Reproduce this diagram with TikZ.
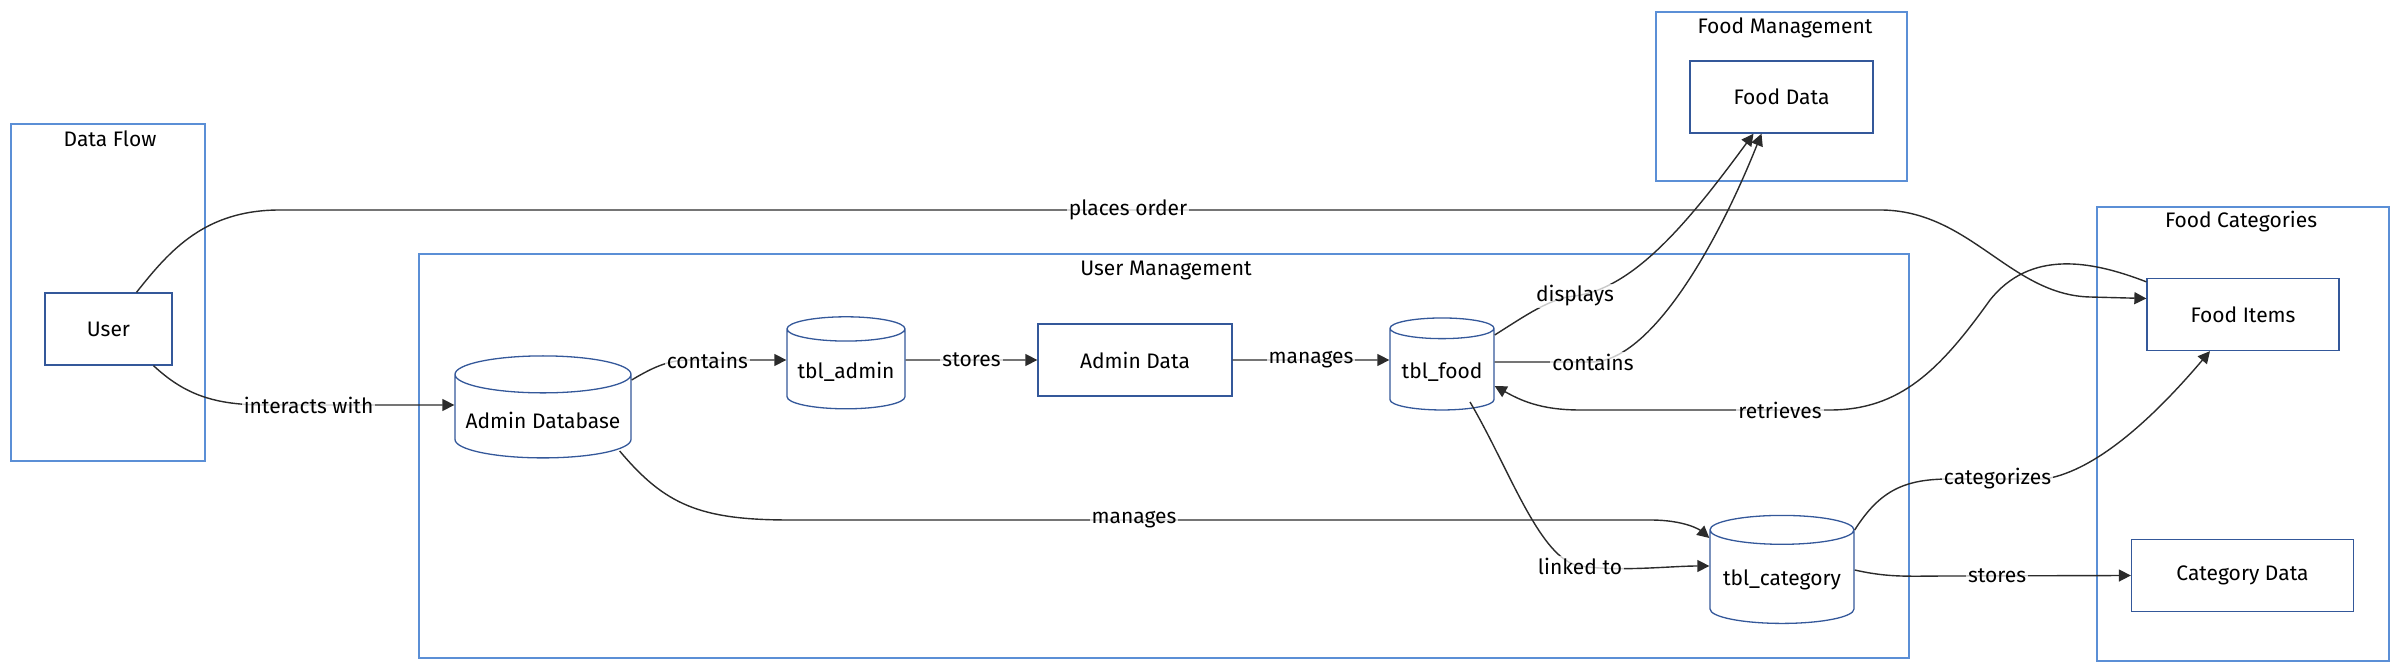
\documentclass[tikz,border=0pt]{standalone}
\usepackage{fontspec}
\setmainfont{Fira Sans}
\usetikzlibrary{arrows.meta, positioning, shapes.geometric, calc}

\definecolor{clusterblue}{HTML}{5B8FD6}
\definecolor{nodeblue}{HTML}{34589A}
\definecolor{edgegray}{HTML}{2B2B2B}

\begin{document}
\begin{tikzpicture}[
x=0.5pt, y=-0.5pt,
font=\fontsize{10.5}{12}\selectfont,
cluster/.style={
draw=clusterblue,
line width=0.9pt
},
title/.style={
inner sep=1pt,
anchor=center
},
box/.style={
rectangle,
draw=nodeblue,
line width=0.65pt,
minimum height=36pt,
align=center
},
dbcyl/.style={
cylinder,
shape border rotate=90,
draw=nodeblue,
line width=0.65pt,
aspect=0.22,
align=center
},
arrow/.style={-{Triangle[length=6pt,width=6pt]},draw=edgegray,line width=0.7pt},
lbl/.style={
fill=white,
fill opacity=0.75,
text opacity=1,
inner sep=1pt
}
]
\useasboundingbox (0,0) rectangle (2400,672);

% Clusters
\draw[cluster] (11,124) rectangle (205,461);
\node[title] (dataflowlbl) at (110,139) {Data Flow};

\draw[cluster] (419,254) rectangle (1909,658);
\node[title] (usermgmtlbl) at (1166,271) {User Management};

\draw[cluster] (1656,12) rectangle (1907,181);
\node[title] (foodmgmtlbl) at (1785,28) {Food Management};

\draw[cluster] (2097,207) rectangle (2389,661);
\node[title] (foodcatlbl) at (2241,222) {Food Categories};

% Data Flow
\node[box,minimum width=63.5pt] (user) at (108.5,329) {User};

% User Management
\node[dbcyl,minimum width=88pt,minimum height=51pt] (admindb) at (543,420) {Admin Database};
\node[dbcyl,minimum width=59pt,minimum height=46pt] (tbladmin) at (846,372) {tbl\_admin};
\node[box,minimum width=97pt] (admindata) at (1135,360) {Admin Data};
\node[dbcyl,minimum width=52pt,minimum height=46pt] (tblfood) at (1442,372) {tbl\_food};
\node[dbcyl,minimum width=72pt,minimum height=54pt] (tblcat) at (1782,580) {tbl\_category};

% Food Management
\node[box,minimum width=91.5pt] (fooddata) at (1781.5,97) {Food Data};

% Food Categories
\node[box,minimum width=96pt] (fooditems) at (2243,314.5) {Food Items};
\node[box,minimum width=111pt] (catdata) at (2242.5,575.5) {Category Data};

% Arrows
\draw[arrow] ($(user.south)+(45,0)$) .. controls (185,395) and (215,405) .. (265,405)
  -- node[lbl,pos=0.23]{interacts with} ($(admindb.west)+(0,-15)$);
\draw[arrow] ($(user.north)+(28,0)$) .. controls (170,250) and (205,210) .. (280,210)
  -- node[lbl,pos=0.53]{places order} (1880,210)
  .. controls (1970,210) and (2010,295) .. (2090,297) -- ($(fooditems.west)+(0,-16)$);
\draw[arrow] ($(admindb.east)+(0,-40)$) .. controls (655,366) and (670,360) .. (690,360)
  -- node[lbl,pos=0.18]{contains} ($(tbladmin.west)+(0,-12)$);
\draw[arrow] ($(tbladmin.east)+(0,-12)$) -- node[lbl]{stores} (admindata.west);
\draw[arrow] (admindata.east) -- node[lbl]{manages} ($(tblfood.west)+(0,-12)$);
\draw[arrow] ($(tblfood.east)+(0,-37)$) .. controls (1525,316) and (1550,298) .. (1575,296)
  node[lbl]{displays}
  .. controls (1635,288) and (1690,220) .. ($(fooddata.south)+(-28,0)$);
\draw[arrow] ($(tblfood.east)+(0,-10)$) -- (1593,362) node[lbl]{contains}
  .. controls (1650,360) and (1715,250) .. ($(fooddata.south)+(-20,0)$);
\draw[arrow] ($(fooditems.north west)+(0,4)$) .. controls (2090,260) and (2030,250) .. (1990,300)
  .. controls (1940,370) and (1900,410) .. (1830,410)
  -- node[lbl,pos=0.2]{retrieves} (1580,410)
  .. controls (1540,410) and (1520,400) .. ($(tblfood.east)+(0,14)$);
\draw[arrow] ($(tblfood.center)+(28,30)$) .. controls (1510,470) and (1540,560) .. (1580,566)
  node[lbl]{linked to}
  .. controls (1620,572) and (1670,566) .. ($(tblcat.west)+(0,-14)$);
\draw[arrow] ($(admindb.east)+(-12,31)$) .. controls (665,505) and (700,520) .. (790,520)
  -- node[lbl,pos=0.4]{manages} (1650,520)
  .. controls (1685,520) and (1700,530) .. ($(tblcat.west)+(0,-42)$);
\draw[arrow] ($(tblcat.east)+(0,-50)$) .. controls (1880,490) and (1905,479) .. (1950,479)
  -- node[lbl]{categorizes} (2045,479)
  .. controls (2100,470) and (2160,410) .. ($(fooditems.south)+(-33,0)$);
\draw[arrow] ($(tblcat.east)+(0,-10)$) .. controls (1890,578) and (1910,576) .. (1950,576)
  -- node[lbl,pos=0.26]{stores} (catdata.west);

\end{tikzpicture}
\end{document}
